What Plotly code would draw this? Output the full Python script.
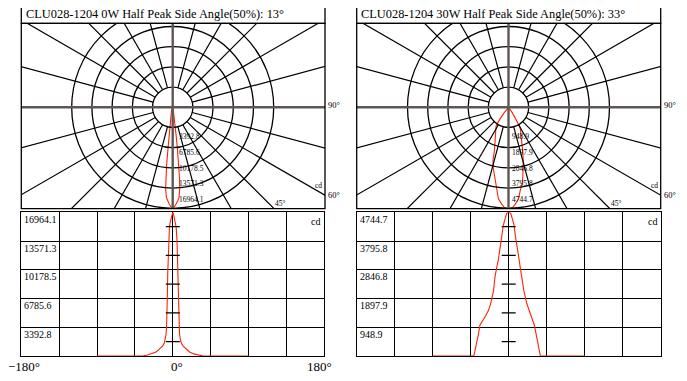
import math
import plotly.graph_objects as go

# ---------------- data ----------------
titles = ["CLU028-1204 0W Half Peak Side Angle(50%): 13°",
          "CLU028-1204 30W Half Peak Side Angle(50%): 33°"]

peak_0w = 16964.1
angles_0w = [-90, -40, -35, -30, -25, -20, -17, -14, -12, -10, -9, -8, -7.5, -7, -6.5, -6, -5.5, -5, -4, -3, -2, -1,
             0, 1, 2, 3, 4, 5, 5.5, 6, 6.5, 7, 7.5, 8, 9, 10, 12, 14, 17, 20, 25, 30, 35, 40, 90]
cd_0w = [0, 0, 30, 110, 250, 480, 720, 1000, 1200, 1550, 1950, 2600, 3300, 4600, 7000, 9800, 12000, 13600, 15200, 15800, 16300, 16700,
         16964.1, 16700, 16300, 15800, 15200, 13600, 12000, 9800, 7000, 4600, 3300, 2600, 1950, 1550, 1200, 1000, 720, 480, 250, 110, 30, 0, 0]

peak_30w = 4744.7
angles_30w = [-90, -45, -42, -41, -38.7, -36, -34, -31, -28, -24, -21.3, -18, -16.2, -14, -12.3, -10.3, -8, -6.3, -4, -2.4,
              0, 2.4, 4, 6.3, 8, 10.7, 12, 13.5, 15.4, 18, 21.3, 25, 28, 30.3, 33, 35, 37, 37.5, 45, 90]
cd_30w = [0, 0, 0, 33, 307, 700, 1024, 1150, 1298, 1500, 1740, 2150, 2618, 2950, 3170, 3556, 3950, 4325, 4560, 4712,
          4744.7, 4712, 4560, 4325, 3950, 3556, 3250, 2950, 2618, 2150, 1740, 1450, 1200, 1024, 650, 307, 33, 0, 0, 0]

ring_labels_0w = ["3392.8", "6785.6", "10178.5", "13571.3", "16964.1"]
ring_labels_30w = ["948.9", "1897.9", "2846.8", "3795.8", "4744.7"]
row_labels_0w = ["16964.1", "13571.3", "10178.5", "6785.6", "3392.8"]
row_labels_30w = ["4744.7", "3795.8", "2846.8", "1897.9", "948.9"]
x_tick_labels = ["−180°", "0°", "180°"]

# ---------------- layout constants ----------------
# the page body has an 8px margin, so the figure is drawn 8px in from the window's corner
OX, OY = 8, 8
W, H = 687 - OX, 381 - OY
FONT = "Liberation Serif"
RED = "#ff2200"
GRAY = "#5e5652"
R_PX = 101.0


def px(x):
    return (x - OX) / W


def py(y):
    return 1 - (y - OY) / H


fig = go.Figure()

panels = [
    dict(x0=21.3, x1=325.0, cx=172.7, lx1=324.3, ang=angles_0w, cd=cd_0w, peak=peak_0w,
         rings=ring_labels_0w, rows=row_labels_0w, ring_lx=177.5, title=titles[0]),
    dict(x0=356.7, x1=660.7, cx=508.5, lx1=660.7, ang=angles_30w, cd=cd_30w, peak=peak_30w,
         rings=ring_labels_30w, rows=row_labels_30w, ring_lx=510.5, title=titles[1]),
]

TITLE_TOP, TITLE_BOT = 4.7, 23.3
POLAR_BOT = 208.7
CY = 107.3
LOW_TOP, LOW_BOT = 212.3, 356.0

shapes = []
annotations = []


def ann(text, x, y, size, xanchor="left", yanchor="middle"):
    annotations.append(dict(text=text, x=px(x), y=py(y), xref="paper", yref="paper",
                            showarrow=False, xanchor=xanchor, yanchor=yanchor,
                            borderpad=0,
                            font=dict(family=FONT, size=size, color="black")))


layout_axes = {}
for i, p in enumerate(panels):
    pa = 2 * i + 1      # polar axes index
    la = 2 * i + 2      # linear axes index
    xa_p = "x" if pa == 1 else f"x{pa}"
    ya_p = "y" if pa == 1 else f"y{pa}"
    xa_l = f"x{la}"
    ya_l = f"y{la}"

    # ----- polar-style diagram on equal-scaled cartesian axes -----
    layout_axes[f"xaxis{'' if pa == 1 else pa}"] = dict(
        domain=[px(p["x0"]), px(p["x1"])],
        range=[(p["x0"] - p["cx"]) / R_PX, (p["x1"] - p["cx"]) / R_PX],
        visible=False, fixedrange=True, anchor=ya_p)
    layout_axes[f"yaxis{'' if pa == 1 else pa}"] = dict(
        domain=[py(POLAR_BOT), py(TITLE_BOT)],
        range=[-(POLAR_BOT - CY) / R_PX, (CY - TITLE_BOT) / R_PX],
        visible=False, fixedrange=True, anchor=xa_p)

    # rings
    for k in range(1, 6):
        r = 0.2 * k
        shapes.append(dict(type="circle", xref=xa_p, yref=ya_p, x0=-r, x1=r, y0=-r, y1=r,
                           line=dict(color="black", width=1.3), layer="above"))
    # spokes every 15 degrees
    for a in range(0, 360, 15):
        if a % 90 == 0:
            continue
        t = math.radians(a)
        shapes.append(dict(type="line", xref=xa_p, yref=ya_p,
                           x0=0.2 * math.sin(t), y0=0.2 * math.cos(t),
                           x1=3 * math.sin(t), y1=3 * math.cos(t),
                           line=dict(color="black", width=1.2), layer="above"))
    # centre cross
    shapes.append(dict(type="line", xref=xa_p, yref=ya_p, x0=-3, x1=3, y0=0, y1=0,
                       line=dict(color=GRAY, width=2.4), layer="above"))
    shapes.append(dict(type="line", xref=xa_p, yref=ya_p, x0=0, x1=0, y0=-3, y1=3,
                       line=dict(color=GRAY, width=2.4), layer="above"))

    # lobe (angle measured from downward vertical)
    xs = [v / p["peak"] * math.sin(math.radians(a)) for a, v in zip(p["ang"], p["cd"])]
    ys = [-v / p["peak"] * math.cos(math.radians(a)) for a, v in zip(p["ang"], p["cd"])]
    fig.add_trace(go.Scatter(x=xs, y=ys, mode="lines", xaxis=xa_p, yaxis=ya_p,
                             line=dict(color=RED, width=1.1), hoverinfo="skip", showlegend=False))

    # boxes
    shapes.append(dict(type="rect", xref="paper", yref="paper",
                       x0=px(p["x0"]), x1=px(p["x1"]), y0=py(TITLE_BOT), y1=py(TITLE_TOP),
                       line=dict(color="black", width=1.3)))
    shapes.append(dict(type="rect", xref="paper", yref="paper",
                       x0=px(p["x0"]), x1=px(p["x1"]), y0=py(POLAR_BOT), y1=py(TITLE_BOT),
                       line=dict(color="black", width=1.3)))

    ann(p["title"], p["x0"] + 3.5, 14.2, 12.4)

    # ring value labels
    for lab, yy in zip(p["rings"], [136, 152, 168, 183.5, 199]):
        ann(lab, p["ring_lx"], yy, 7.5)
    ann("90°", p["x1"] + 2, 104.5, 8.5)
    ann("60°", p["x1"] + 2, 194.5, 8.5)
    ann("45°", p["x0"] + 253, 203.5, 7.5)
    ann("cd", p["x0"] + 293, 185.5, 7.5)

    # ----- linear diagram -----
    layout_axes[f"xaxis{la}"] = dict(
        domain=[px(p["x0"]), px(p["lx1"])], range=[-180, 180], anchor=ya_l,
        tick0=-180, dtick=45, showgrid=True, gridcolor="black", gridwidth=1.2,
        showticklabels=False, ticks="", zeroline=False,
        showline=True, mirror=True, linecolor="black", linewidth=1.3,
        layer="below traces", fixedrange=True)
    layout_axes[f"yaxis{la}"] = dict(
        domain=[py(LOW_BOT), py(LOW_TOP)], range=[0, p["peak"]], anchor=xa_l,
        tick0=0, dtick=p["peak"] / 5, showgrid=True, gridcolor="black", gridwidth=1.2,
        showticklabels=False, ticks="", zeroline=False,
        showline=True, mirror=True, linecolor="black", linewidth=1.3,
        layer="below traces", fixedrange=True)

    fig.add_trace(go.Scatter(x=p["ang"], y=p["cd"], mode="lines", xaxis=xa_l, yaxis=ya_l,
                             line=dict(color=RED, width=1.1), hoverinfo="skip",
                             showlegend=False, cliponaxis=False))
    # small tick marks on the centre line at the middle of each row
    fig.add_trace(go.Scatter(x=[0] * 5, y=[p["peak"] * (k + 0.5) / 5 for k in range(5)],
                             mode="markers", xaxis=xa_l, yaxis=ya_l,
                             marker=dict(symbol="line-ew", size=10,
                                         line=dict(color="black", width=1.1)),
                             hoverinfo="skip", showlegend=False))

    row_h = (LOW_BOT - LOW_TOP) / 5
    for k, lab in enumerate(p["rows"]):
        ann(lab, p["x0"] + 2, LOW_TOP + k * row_h + 7, 10)
    ann("cd", p["lx1"] - 14, 221, 10)

# x tick labels (left panel only)
ann(x_tick_labels[0], 24.3, 366.5, 13, xanchor="center")
ann(x_tick_labels[1], 176.7, 366.5, 13, xanchor="center")
ann(x_tick_labels[2], 319.5, 366.5, 13, xanchor="center")

fig.update_layout(
    width=W, height=H, margin=dict(l=0, r=0, t=0, b=0),
    paper_bgcolor="white", plot_bgcolor="white",
    shapes=shapes, annotations=annotations, showlegend=False,
    **layout_axes,
)

fig.write_html("out.html")
